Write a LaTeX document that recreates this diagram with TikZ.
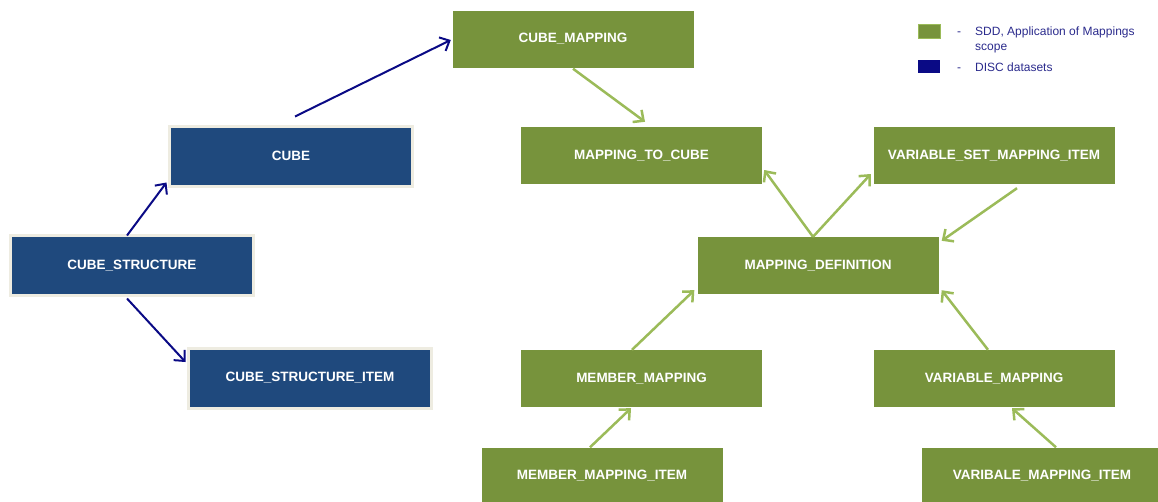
\documentclass[tikz,border=0pt]{standalone}
\usepackage{fontspec}
\setmainfont{Liberation Sans}
\usetikzlibrary{arrows.meta}
\definecolor{boxgreen}{HTML}{77933C}
\definecolor{boxblue}{HTML}{1F497D}
\definecolor{boxrim}{HTML}{EEECE1}
\definecolor{linkgreen}{HTML}{9BBB59}
\definecolor{linknavy}{HTML}{0A0A85}
\definecolor{legendtext}{HTML}{2A2A8C}
\tikzset{
  entity/.style={rectangle, inner sep=0pt, text=white,
    font=\fontsize{13.5}{16}\selectfont\bfseries},
  greenbox/.style={entity, fill=boxgreen, minimum width=241pt, minimum height=57pt},
  bluebox/.style={entity, fill=boxblue, draw=boxrim, line width=3pt,
    minimum width=243pt, minimum height=60pt},
  navylink/.style={draw=linknavy, line width=2pt,
    -{Straight Barb[length=8pt,width=15pt,line width=2pt]}},
  greenlink/.style={draw=linkgreen, line width=2.5pt,
    -{Straight Barb[length=8pt,width=15pt,line width=2.5pt]}},
  legendlabel/.style={text=legendtext, font=\fontsize{12}{15}\selectfont,
    inner sep=0pt}
}
\begin{document}
\begin{tikzpicture}[x=1pt, y=-1pt]
\useasboundingbox (0,0) rectangle (1158,501);

% DISC datasets
\node[bluebox] (cube) at (291,156) {CUBE};
\node[bluebox] (cs)   at (132,265.5) {CUBE\_STRUCTURE};
\node[bluebox] (csi)  at (310,378) {CUBE\_STRUCTURE\_ITEM};

% SDD mapping tables
\node[greenbox] (cm)   at (573,39)    {CUBE\_MAPPING};
\node[greenbox] (mtc)  at (641.5,155.5) {MAPPING\_TO\_CUBE};
\node[greenbox] (vsmi) at (994,155.5) {VARIABLE\_SET\_MAPPING\_ITEM};
\node[greenbox] (md)   at (818,265.5) {MAPPING\_DEFINITION};
\node[greenbox] (mm)   at (641.5,378.5) {MEMBER\_MAPPING};
\node[greenbox] (vm)   at (994,378.5) {VARIABLE\_MAPPING};
\node[greenbox] (mmi)  at (602,476)   {MEMBER\_MAPPING\_ITEM};
\node[greenbox] (vmi)  at (1042,476)  {VARIBALE\_MAPPING\_ITEM};

% links between DISC datasets
\draw[navylink] ([shift={(4,-8)}]cube.north) -- ([shift={(-1.5,1)}]cm.west);
\draw[navylink] ([shift={(-5,1.5)}]cs.north) -- ([shift={(-1.5,-5)}]cube.south west);
\draw[navylink] ([shift={(-5,1.5)}]cs.south) -- ([shift={(-1.5,-16)}]csi.west);

% links between mapping tables
\draw[greenlink] ([shift={(0,1)}]cm.south) -- ([shift={(3.5,-5)}]mtc.north);
\draw[greenlink] ([shift={(-5,0)}]md.north) -- ([shift={(2,14.5)}]mtc.east);
\draw[greenlink] ([shift={(-5,0)}]md.north) -- ([shift={(-2.5,18.5)}]vsmi.west);
\draw[greenlink] ([shift={(23,4)}]vsmi.south) -- ([shift={(3,4)}]md.north east);
\draw[greenlink] ([shift={(-9.5,0)}]mm.north) -- ([shift={(-3,-4)}]md.south west);
\draw[greenlink] ([shift={(-6,0)}]vm.north) -- ([shift={(3,-4)}]md.south east);
\draw[greenlink] ([shift={(-12,0)}]mmi.north) -- ([shift={(-10.5,1)}]mm.south);
\draw[greenlink] ([shift={(14,0)}]vmi.north) -- ([shift={(18,1)}]vm.south);

% legend
\node[fill=boxgreen, draw=linkgreen, line width=0.5pt, minimum width=22pt,
  minimum height=14pt, inner sep=0pt] (lgsq) at (929,31) {};
\node[fill=linknavy, minimum width=22pt, minimum height=13pt, inner sep=0pt]
  (lnsq) at (929,66.5) {};
\node[legendlabel, anchor=base] (lgdash) at (959,35.3) {-};
\node[legendlabel, anchor=base] (lndash) at (959,71.3) {-};
\node[legendlabel, anchor=base west] (lgtext) at (975,35.3)
  {SDD, Application of Mappings};
\node[legendlabel, anchor=base west] (lgtext2) at (975,50.3) {scope};
\node[legendlabel, anchor=base west] (lntext) at (975,71.3) {DISC datasets};
\end{tikzpicture}
\end{document}
